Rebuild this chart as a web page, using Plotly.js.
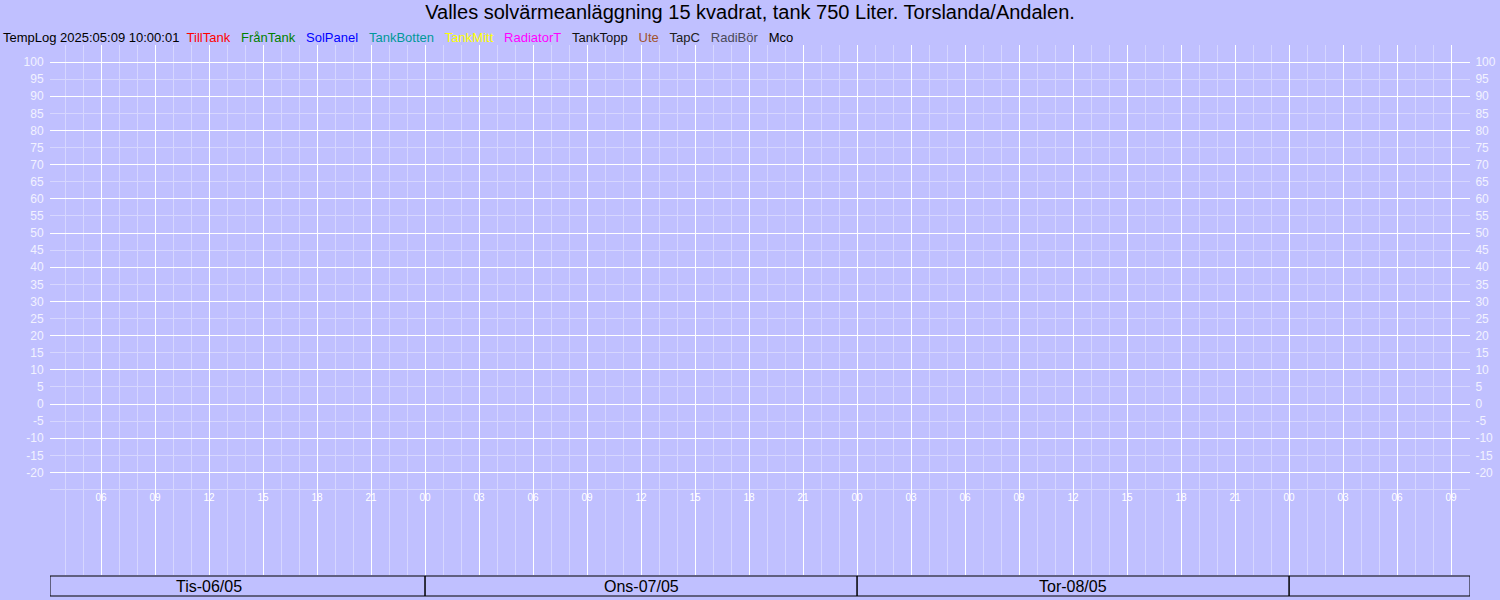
<!DOCTYPE html>
<html>
<head>
<meta charset="utf-8">
<script src="https://cdn.plot.ly/plotly-3.0.1.min.js"></script>
<style>html,body{margin:0;padding:0;background:#C0C0FF;}#chart{width:1500px;height:600px;}</style>
</head>
<body>
<div id="chart"></div>
<script>
// ---- data ----
const titleText = "Valles solvärmeanläggning 15 kvadrat, tank 750 Liter. Torslanda/Andalen.";
const logStamp = "TempLog 2025:05:09 10:00:01";
const seriesNames = ["TillTank","FrånTank","SolPanel","TankBotten","TankMitt","RadiatorT","TankTopp","Ute","TapC","RadiBör","Mco"];
const seriesColors = ["#ff0000","#008000","#0000ff","#009999","#ffff00","#ff00ff","#111111","#a0522d","#202020","#4a4a5a","#000000"];
// no samples logged in the window (empty series)
const seriesTimes = [[],[],[],[],[],[],[],[],[],[],[]];
const seriesValues = [[],[],[],[],[],[],[],[],[],[],[]];
const timeRange = ["2025-05-06 03:10", "2025-05-09 10:03"];
const dayStarts = ["2025-05-06 03:10","2025-05-07 00:00","2025-05-08 00:00","2025-05-09 00:00"];
const dayEnds   = ["2025-05-07 00:00","2025-05-08 00:00","2025-05-09 00:00","2025-05-09 10:03"];
const dayLabels = ["Tis-06/05","Ons-07/05","Tor-08/05",""];
const dayNoons  = ["2025-05-06 12:00","2025-05-07 12:00","2025-05-08 12:00","2025-05-09 12:00"];
const yLabelVals = [-20,-15,-10,-5,0,5,10,15,20,25,30,35,40,45,50,55,60,65,70,75,80,85,90,95,100];
const yLabelText = ["-20","-15","-10","-5","0","5","10","15","20","25","30","35","40","45","50","55","60","65","70","75","80","85","90","95","100"];
const yMajorGrid = [-20,-10,0,10,20,30,40,50,60,70,80,90,100];
const yMinorGrid = [-25,-15,-5,5,15,25,35,45,55,65,75,85,95];
const yRange = [-50, 105];

// ---- style ----
const BG = "#C0C0FF";
const MINOR = "#D6D6FF";
const LABEL = "#F2F2FF";
const FONT = "Liberation Sans, Arial, sans-serif";
const H = 3600000;

const traces = seriesNames.map((n,i)=>({
  type:"scatter", mode:"lines", name:n, x:seriesTimes[i], y:seriesValues[i],
  line:{color:seriesColors[i], width:1}, showlegend:false, xaxis:"x", yaxis:"y"
}));
// helper empty traces so the label axes render
traces.push({type:"scatter",x:[],y:[],xaxis:"x",yaxis:"y2",showlegend:false,hoverinfo:"skip"});
traces.push({type:"scatter",x:[],y:[],xaxis:"x",yaxis:"y3",showlegend:false,hoverinfo:"skip"});
traces.push({type:"scatter",x:[],y:[],xaxis:"x2",yaxis:"y",showlegend:false,hoverinfo:"skip"});

const legendText = logStamp + "&nbsp;&nbsp;" + seriesNames.map((n,i)=>
  `<span style="color:${seriesColors[i]}">${n}</span>`).join("&nbsp;&nbsp;&nbsp;");

const shapes = dayStarts.map((s,i)=>({
  type:"rect", xref:"x", yref:"paper", x0:s, x1:dayEnds[i],
  y0:-21/530, y1:-1/530, line:{color:"#000", width:1}, fillcolor:"rgba(0,0,0,0)", layer:"above"
}));

const annotations = [{
  xref:"paper", yref:"paper", x:-50/1420, y:(575-38)/530, xanchor:"left", yanchor:"middle", xshift:1,
  text:legendText, showarrow:false, font:{family:FONT, size:13, color:"#000"}
}];
dayLabels.forEach((d,i)=>{ if(d) annotations.push({
  xref:"x", yref:"paper", x:dayNoons[i], y:(575-586)/530, xanchor:"center", yanchor:"middle",
  text:d, showarrow:false, font:{family:FONT, size:16, color:"#000"}
});});

const layout = {
  width:1500, height:600,
  margin:{l:50, r:30, t:45, b:25, pad:0},
  paper_bgcolor:BG, plot_bgcolor:BG,
  font:{family:FONT},
  title:{text:titleText, x:0.5, xanchor:"center", y:1-12/600, yanchor:"middle", font:{family:FONT, size:20, color:"#000"}},
  showlegend:false,
  xaxis:{type:"date", range:timeRange, tickmode:"linear", tick0:"2025-05-06 00:00", dtick:3*H,
    showticklabels:false, showgrid:true, gridcolor:"#ffffff", gridwidth:1, zeroline:false, showline:false, ticks:"",
    minor:{tickmode:"linear", tick0:"2025-05-06 00:00", dtick:H, showgrid:true, gridcolor:MINOR, gridwidth:1}},
  xaxis2:{type:"date", overlaying:"x", anchor:"free", position:(575-490)/530, range:timeRange, matches:"x",
    tickmode:"linear", tick0:"2025-05-06 00:00", dtick:3*H, tickformat:"%H",
    showgrid:false, zeroline:false, showline:false, ticks:"", tickfont:{family:FONT, size:10, color:"#ffffff"}},
  yaxis:{range:yRange, tickmode:"array", tickvals:yMajorGrid, showticklabels:false, showgrid:true,
    gridcolor:"#ffffff", gridwidth:1, zeroline:false, showline:false, ticks:"",
    minor:{tickmode:"array", tickvals:yMinorGrid, showgrid:true, gridcolor:MINOR, gridwidth:1}},
  yaxis2:{overlaying:"y", side:"left", range:yRange, tickmode:"array", tickvals:yLabelVals, ticktext:yLabelText,
    showgrid:false, zeroline:false, showline:false, ticks:"outside", ticklen:3, tickcolor:"rgba(0,0,0,0)",
    tickfont:{family:FONT, size:12, color:LABEL}},
  yaxis3:{overlaying:"y", side:"right", range:yRange, tickmode:"array", tickvals:yLabelVals, ticktext:yLabelText,
    showgrid:false, zeroline:false, showline:false, ticks:"outside", ticklen:2, tickcolor:"rgba(0,0,0,0)",
    tickfont:{family:FONT, size:12, color:LABEL}},
  shapes:shapes,
  annotations:annotations
};
Plotly.newPlot("chart", traces, layout, {displayModeBar:false, staticPlot:true});
</script>
</body>
</html>
